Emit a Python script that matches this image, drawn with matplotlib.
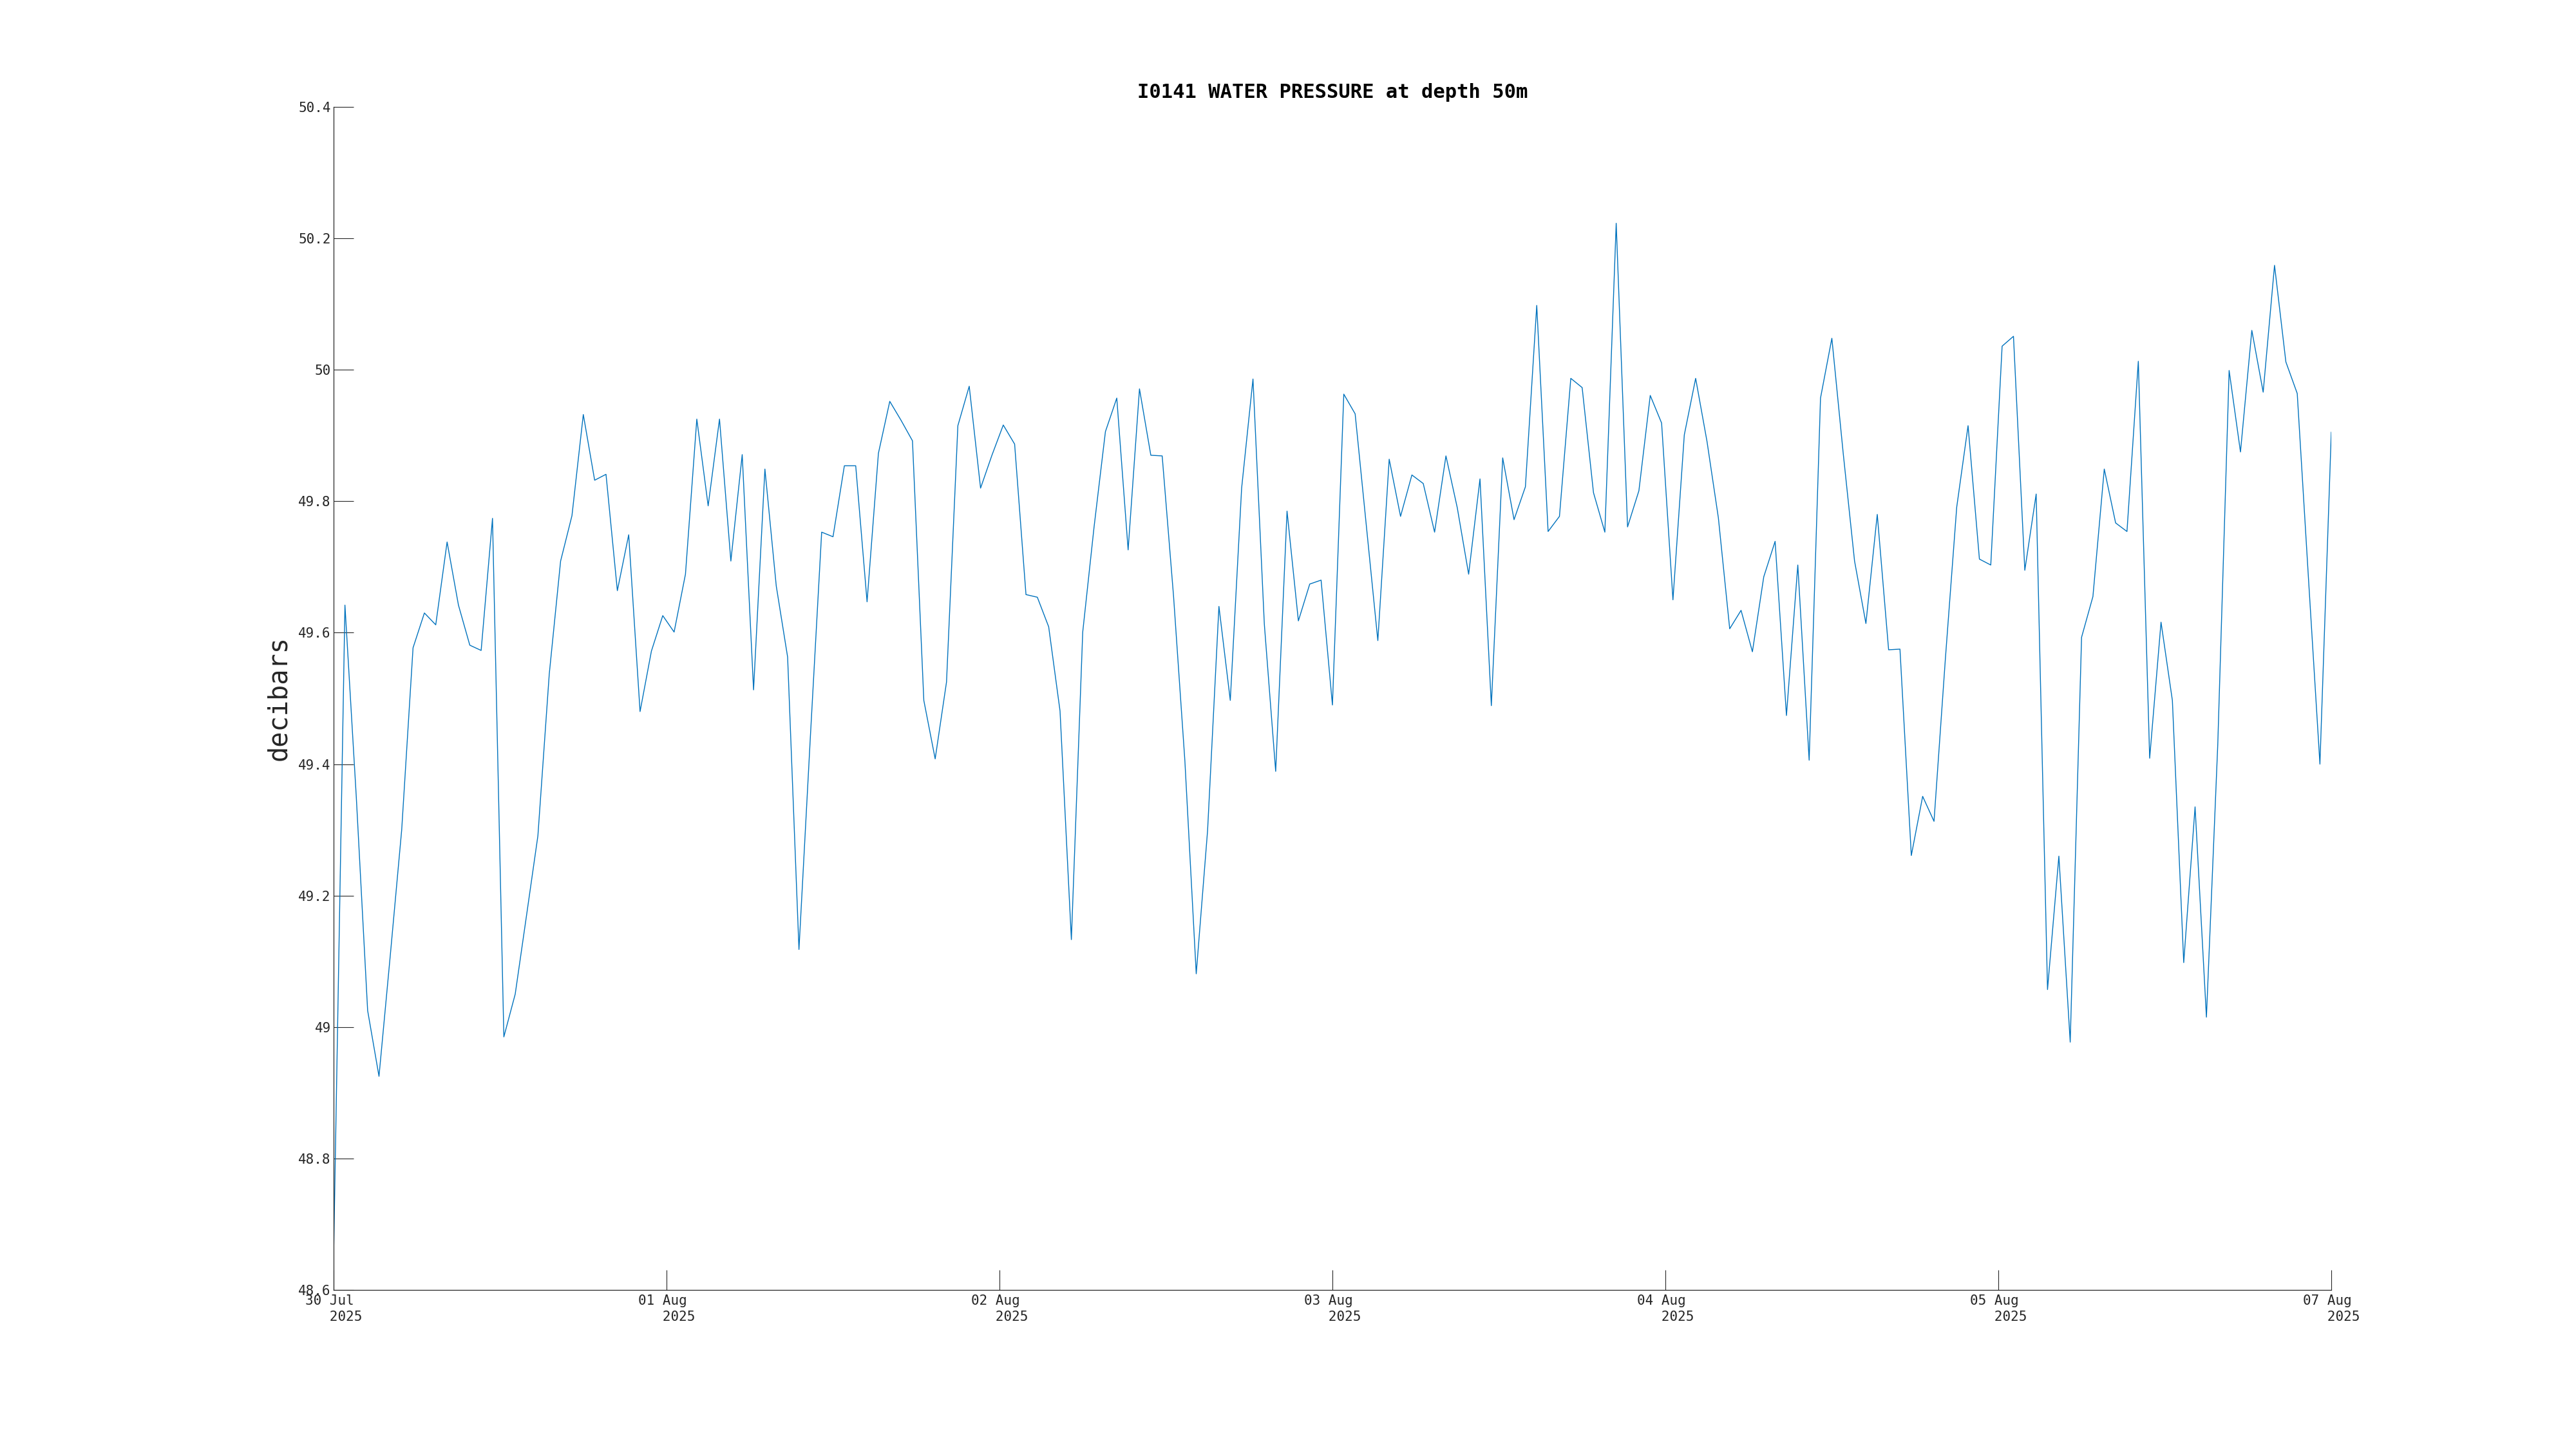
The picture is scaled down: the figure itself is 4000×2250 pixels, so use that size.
import numpy as np
import pandas as pd
import matplotlib
matplotlib.use('Agg')
import matplotlib.pyplot as plt

# water pressure readings (decibars)
pressure = [
    48.65, 49.642, 49.35, 49.025, 48.925, 49.11, 49.30, 49.577, 49.630, 49.612,
    49.738, 49.642, 49.581, 49.573, 49.774, 48.985, 49.050, 49.17, 49.291, 49.537,
    49.709, 49.778, 49.932, 49.832, 49.841, 49.664, 49.749, 49.480, 49.572, 49.626,
    49.601, 49.689, 49.925, 49.793, 49.925, 49.709, 49.871, 49.513, 49.849, 49.671,
    49.563, 49.118, 49.44, 49.753, 49.746, 49.854, 49.854, 49.647, 49.873, 49.952,
    49.923, 49.892, 49.497, 49.408, 49.525, 49.915, 49.975, 49.820, 49.870, 49.916,
    49.887, 49.658, 49.654, 49.609, 49.481, 49.133, 49.601, 49.761, 49.906, 49.957,
    49.726, 49.971, 49.870, 49.869, 49.656, 49.405, 49.081, 49.299, 49.640, 49.497,
    49.820, 49.986, 49.613, 49.389, 49.785, 49.618, 49.674, 49.680, 49.490, 49.963,
    49.933, 49.76, 49.588, 49.864, 49.777, 49.840, 49.827, 49.753, 49.869, 49.79,
    49.689, 49.834, 49.489, 49.866, 49.772, 49.822, 50.098, 49.754, 49.777, 49.987,
    49.973, 49.813, 49.753, 50.223, 49.761, 49.816, 49.961, 49.919, 49.650, 49.901,
    49.987, 49.891, 49.775, 49.606, 49.634, 49.571, 49.685, 49.739, 49.474, 49.703,
    49.406, 49.957, 50.048, 49.873, 49.709, 49.614, 49.780, 49.574, 49.575, 49.261,
    49.351, 49.313, 49.56, 49.791, 49.915, 49.712, 49.703, 50.036, 50.051, 49.695,
    49.811, 49.057, 49.260, 48.977, 49.593, 49.655, 49.849, 49.767, 49.754, 50.013,
    49.409, 49.616, 49.497, 49.098, 49.335, 49.015, 49.43, 49.999, 49.875, 50.060,
    49.966, 50.159, 50.012, 49.964, 49.68, 49.400, 49.905,
]
start_time = '2025-07-30'
end_time = '2025-08-07'
times = pd.date_range(start_time, end_time, periods=len(pressure))

x_labels = ['30 Jul', '01 Aug', '02 Aug', '03 Aug', '04 Aug', '05 Aug', '07 Aug']
year_label = '2025'
y_ticks = [48.6, 48.8, 49.0, 49.2, 49.4, 49.6, 49.8, 50.0, 50.2, 50.4]
y_labels = ['48.6', '48.8', '49', '49.2', '49.4', '49.6', '49.8', '50', '50.2', '50.4']

title = 'I0141 WATER PRESSURE at depth 50m'
ylabel = 'decibars'

plt.rcParams['font.family'] = ['DejaVu Sans Mono']
axis_col = '#262626'

fig = plt.figure(figsize=(40, 22.5), dpi=100)
ax = fig.add_axes([0.1295, 0.1098, 0.7755, 0.8164])

ax.plot(times, pressure, color='#0072BD', linewidth=1.0)

ax.set_xlim(times[0], times[-1])
ax.set_ylim(48.6, 50.4)

x_ticks = pd.date_range(start_time, end_time, periods=len(x_labels))
ax.set_xticks(x_ticks)
ax.set_xticklabels([lab + '\n   ' + year_label for lab in x_labels],
                   multialignment='left', linespacing=1.3)
ax.set_yticks(y_ticks)
ax.set_yticklabels(y_labels)

for side in ['top', 'right']:
    ax.spines[side].set_visible(False)
for side in ['left', 'bottom']:
    ax.spines[side].set_color(axis_col)
    ax.spines[side].set_linewidth(0.9)

ax.tick_params(axis='both', direction='in', length=22, width=0.8,
               colors=axis_col, labelsize=15)
ax.tick_params(axis='x', pad=5)
ax.tick_params(axis='y', pad=3)

ax.set_title(title, fontsize=22, fontweight='bold', pad=10)
ax.set_ylabel(ylabel, fontsize=29, color=axis_col, labelpad=7)

fig.savefig('out.png', dpi=100)
